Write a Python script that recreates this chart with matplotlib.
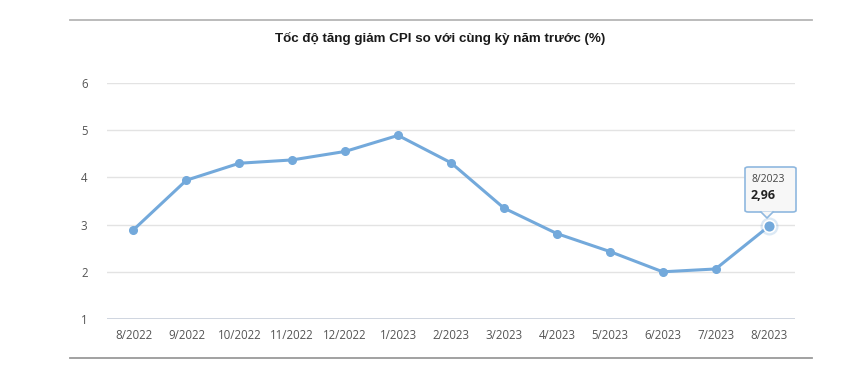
import matplotlib
matplotlib.use("Agg")
import matplotlib.pyplot as plt
from matplotlib.patches import FancyBboxPatch, Polygon
from matplotlib.lines import Line2D

months = ["8/2022", "9/2022", "10/2022", "11/2022", "12/2022", "1/2023", "2/2023",
          "3/2023", "4/2023", "5/2023", "6/2023", "7/2023", "8/2023"]
cpi = [2.89, 3.94, 4.30, 4.37, 4.55, 4.89, 4.31, 3.35, 2.81, 2.43, 2.00, 2.06, 2.96]
yticks = [1, 2, 3, 4, 5, 6]
title = "Tốc độ tăng giảm CPI so với cùng kỳ năm trước (%)"
tip_label = "8/2023"
tip_value = "2,96"

W, H = 850, 378
fig = plt.figure(figsize=(W / 100, H / 100), dpi=100)
fig.patch.set_facecolor("white")

def fx(px):
    return px / W

def fy(py):
    return 1 - py / H

ax = fig.add_axes([fx(107), fy(319), fx(795) - fx(107), fy(83) - fy(319)])
x = list(range(len(months)))
line_color = "#73a9db"
ax.plot(x, cpi, color=line_color, lw=2.2, marker="o", ms=5.5, mec=line_color,
        mfc=line_color, zorder=3, solid_capstyle="round")
# highlighted last point
ax.plot(x[-1], cpi[-1], marker="o", ms=13, mfc=line_color, mec="none", alpha=0.25, zorder=4)
ax.plot(x[-1], cpi[-1], marker="o", ms=8.5, mfc=line_color, mec="white", mew=1.2, zorder=5)

ax.set_xlim(-0.5, len(months) - 0.5)
ax.set_ylim(1, 6)
ax.set_yticks(yticks)
ax.set_yticklabels([str(v) for v in yticks])
ax.set_xticks(x)
ax.set_xticklabels(months)
for s in ax.spines.values():
    s.set_visible(False)
ax.grid(axis="y", color="#e3e3e3", lw=1)
ax.set_axisbelow(True)
ax.axhline(1, color="#c8d0dc", lw=1.2, zorder=2)
ax.tick_params(axis="both", length=0, colors="#555555")
ax.tick_params(axis="y", pad=14)
ax.tick_params(axis="x", pad=7)
for lbl in ax.get_xticklabels() + ax.get_yticklabels():
    lbl.set_color("#555555")
    lbl.set_family("Open Sans")
    lbl.set_fontsize(8.3)

# title
fig.text(fx(440), fy(38), title, ha="center", va="center", fontsize=9.6,
         fontweight="bold", color="#1a1a1a", family="Liberation Sans")

# top and bottom rule lines
fig.add_artist(Line2D([fx(70), fx(812)], [fy(20), fy(20)], color="#b5b5b5", lw=1.3))
fig.add_artist(Line2D([fx(70), fx(812)], [fy(358), fy(358)], color="#9a9a9a", lw=1.3))

# tooltip
bx0, by0, bx1, by1 = 745, 167, 796, 212
box = FancyBboxPatch((fx(bx0), fy(by1)), fx(bx1) - fx(bx0), fy(by0) - fy(by1),
                     boxstyle="round,pad=0,rounding_size=0.004", transform=fig.transFigure,
                     facecolor="#f7f7f7", edgecolor="#8fb8df", lw=1.2, zorder=10)
fig.add_artist(box)
tri = Polygon([(fx(761), fy(211.5)), (fx(773), fy(211.5)), (fx(767), fy(218))],
              closed=True, transform=fig.transFigure, facecolor="#f7f7f7",
              edgecolor="none", zorder=11)
fig.add_artist(tri)
fig.add_artist(Line2D([fx(761), fx(767), fx(773)], [fy(212), fy(218), fy(212)],
                      color="#8fb8df", lw=1.2, zorder=12))
fig.text(fx(751), fy(180), tip_label, ha="left", va="center", fontsize=7.5,
         color="#444444", zorder=13, family="Open Sans")
fig.text(fx(751), fy(195), tip_value, ha="left", va="center", fontsize=9,
         fontweight="bold", color="#222222", zorder=13, family="Open Sans")

fig.savefig("out.png", dpi=100, facecolor="white")
